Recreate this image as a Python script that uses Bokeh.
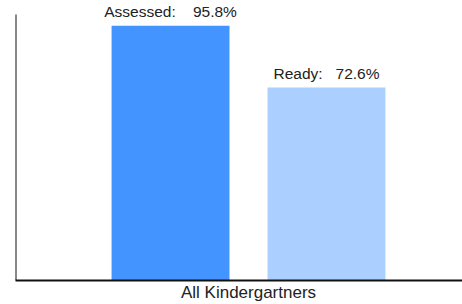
from bokeh.plotting import figure
from bokeh.models import Range1d, FixedTicker, ColumnDataSource
from bokeh.embed import file_html
from bokeh.resources import INLINE
from bokeh.core.properties import value

categories = ["Assessed", "Ready"]
values = [95.8, 72.6]
gaps = [4, 3]
colors = ["#4494ff", "#abcfff"]
group_label = "All Kindergartners"
axis_max = 100

xs = list(range(len(categories)))
labels = [f"{c}:" + "\u00a0" * g + f"{v}%" for c, v, g in zip(categories, values, gaps)]
src = ColumnDataSource(dict(x=xs, top=values, color=colors, label=labels))

x_start = -0.994
p = figure(width=462, height=304, output_backend="svg", toolbar_location=None,
           x_range=Range1d(x_start, 1.872), y_range=Range1d(0, axis_max * 1.053),
           min_border_left=15, min_border_right=0, min_border_top=0, min_border_bottom=0)
p.outline_line_color = None
p.grid.visible = False
p.yaxis.visible = False

# left axis line (from 0 to axis max)
p.segment(x0=[x_start], y0=[0], x1=[x_start], y1=[axis_max], line_color="#111111", line_width=2)

p.vbar(x="x", top="top", bottom=0, width=0.756, color="color", line_color=None, source=src)
p.text(x="x", y="top", text="label", source=src, text_align="center", text_baseline="alphabetic",
       y_offset=-14, text_font=value("Liberation Sans"), text_font_size="15.5px", text_color="#222222")

p.xaxis.ticker = FixedTicker(ticks=[0.5])
p.xaxis.major_label_overrides = {0.5: group_label}
p.xaxis.major_tick_line_color = None
p.xaxis.minor_tick_line_color = None
p.xaxis.major_tick_out = 0
p.xaxis.major_tick_in = 0
p.xaxis.axis_line_width = 2
p.xaxis.axis_line_color = "#111111"
p.xaxis.major_label_text_font = "Liberation Sans"
p.xaxis.major_label_text_font_size = "17px"
p.xaxis.major_label_text_color = "#222222"
p.xaxis.major_label_standoff = 2

open("out.html", "w").write(file_html(p, INLINE))
